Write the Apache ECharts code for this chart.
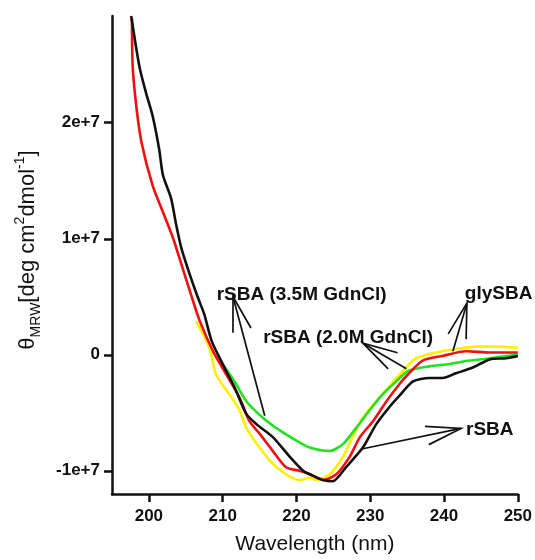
<!DOCTYPE html>
<html>
<head>
<meta charset="utf-8">
<script src="https://cdn.jsdelivr.net/npm/echarts@6/dist/echarts.min.js"></script>
<style>html,body{margin:0;padding:0;background:#fff}#c{width:535px;height:560px}</style>
</head>
<body>
<div id="c"></div>
<script>
// ---- data (wavelength nm, theta MRW) ----
const xTicks = [200, 210, 220, 230, 240, 250];
const yTicks = [-1e7, 0, 1e7, 2e7];

const rSBA = [
  [197.6, 2.92e7], [198.7, 2.49e7], [199.6, 2.26e7], [200.5, 2.06e7], [201.4, 1.77e7],
  [201.9, 1.55e7], [203.0, 1.35e7], [203.7, 1.12e7], [204.4, 0.92e7], [205.5, 0.70e7],
  [206.6, 0.50e7], [207.5, 0.35e7], [208.5, 0.12e7], [210.0, -0.08e7], [211.6, -0.28e7],
  [213.2, -0.51e7], [214.6, -0.60e7], [216.8, -0.71e7], [219.1, -0.88e7], [220.9, -1.00e7],
  [221.8, -1.03e7], [223.6, -1.08e7], [224.9, -1.09e7], [226.7, -0.97e7], [229.0, -0.80e7],
  [230.8, -0.60e7], [232.6, -0.45e7], [234.0, -0.35e7], [235.8, -0.23e7], [238.0, -0.20e7],
  [239.8, -0.20e7], [241.6, -0.16e7], [243.9, -0.11e7], [246.2, -0.04e7], [248.4, -0.03e7],
  [250.0, -0.01e7]
];
const glySBA = [
  [197.7, 2.90e7], [197.8, 2.49e7], [198.3, 2.14e7], [199.0, 1.83e7], [200.5, 1.46e7],
  [201.9, 1.23e7], [203.3, 1.00e7], [204.6, 0.74e7], [205.7, 0.52e7], [206.9, 0.29e7],
  [208.7, 0.03e7], [210.5, -0.17e7], [212.3, -0.37e7], [213.6, -0.57e7], [215.0, -0.68e7],
  [216.8, -0.83e7], [218.6, -0.97e7], [220.4, -1.00e7], [221.8, -1.03e7], [223.6, -1.08e7],
  [225.4, -1.03e7], [227.2, -0.88e7], [228.6, -0.71e7], [230.4, -0.57e7], [232.2, -0.40e7],
  [234.0, -0.25e7], [235.1, -0.17e7], [237.1, -0.05e7], [239.8, -0.01e7], [243.0, 0.03e7],
  [246.2, 0.02e7], [248.4, 0.02e7], [250.0, 0.02e7]
];
const rSBA20 = [
  [206.4, 0.29e7], [208.2, 0.06e7], [209.1, -0.17e7], [210.9, -0.34e7], [212.3, -0.48e7],
  [213.2, -0.63e7], [215.0, -0.80e7], [216.8, -0.94e7], [218.6, -1.03e7], [220.4, -1.08e7],
  [221.8, -1.06e7], [222.7, -1.08e7], [224.5, -1.03e7], [226.3, -0.88e7], [227.6, -0.71e7],
  [229.0, -0.54e7], [230.8, -0.40e7], [232.6, -0.27e7], [234.4, -0.14e7], [236.2, -0.03e7],
  [238.9, 0.02e7], [241.6, 0.05e7], [244.4, 0.07e7], [247.1, 0.07e7], [250.0, 0.06e7]
];
const rSBA35 = [
  [209.6, -0.04e7], [210.0, -0.08e7], [211.8, -0.25e7], [213.2, -0.40e7], [215.4, -0.54e7],
  [217.7, -0.65e7], [220.0, -0.74e7], [221.8, -0.80e7], [224.5, -0.83e7], [226.3, -0.77e7],
  [228.1, -0.63e7], [229.9, -0.48e7], [231.7, -0.34e7], [233.5, -0.23e7], [235.1, -0.14e7],
  [238.0, -0.10e7], [240.7, -0.08e7], [243.5, -0.05e7], [246.2, -0.03e7], [248.4, -0.01e7],
  [250.0, 0.0]
];

// annotation texts and their anchor points (data space)
const noteTexts = ['rSBA (3.5M GdnCl)', 'rSBA (2.0M GdnCl)', 'glySBA', 'rSBA'];
const noteWl = [220.7, 227.0, 247.4, 246.2];
const noteVal = [0.514e7, 0.146e7, 0.53e7, -0.65e7];
// arrows: [tail wl, tail val, head wl, head val]
const arrows = [
  [215.7, -0.525e7, 211.4, 0.50e7],
  [234.9, -0.12e7, 229.0, 0.10e7],
  [241.2, 0.03e7, 243.1, 0.445e7],
  [229.0, -0.81e7, 242.3, -0.635e7]
];

const FONT = '"Liberation Sans", Arial, Helvetica, sans-serif';
const chart = echarts.init(document.getElementById('c'), null, {renderer: 'canvas'});

function lineSeries(name, data, color) {
  return {
    name, type: 'line', data, showSymbol: false, smooth: 0.25,
    lineStyle: {color, width: 2.6}, itemStyle: {color}, clip: false, z: 2
  };
}

chart.setOption({
  animation: false,
  backgroundColor: '#fff',
  grid: {left: 112, right: 17, top: 16, bottom: 63},
  xAxis: {
    type: 'value', min: 195, max: 250,
    name: 'Wavelength (nm)', nameLocation: 'middle', nameGap: 40,
    nameTextStyle: {fontFamily: FONT, fontSize: 21, color: '#111'},
    axisLine: {show: true, onZero: false, lineStyle: {color: '#111', width: 2.5}},
    axisTick: {show: true, customValues: xTicks, length: 8, lineStyle: {color: '#111', width: 2.5}},
    axisLabel: {customValues: xTicks, margin: 14, fontFamily: FONT, fontSize: 17, fontWeight: 'bold', color: '#111'},
    splitLine: {show: false}
  },
  yAxis: {
    type: 'value', min: -1.2e7, max: 2.92e7,
    axisLine: {show: true, onZero: false, lineStyle: {color: '#111', width: 2.5}},
    axisTick: {show: true, customValues: yTicks, length: 8, lineStyle: {color: '#111', width: 2.5}},
    axisLabel: {
      customValues: yTicks, margin: 12, fontFamily: FONT, fontSize: 17, fontWeight: 'bold', color: '#111',
      formatter: v => v === 0 ? '0' : (v / 1e7) + 'e+7'
    },
    splitLine: {show: false}
  },
  graphic: [{
    type: 'text', x: 28, y: 250, rotation: Math.PI / 2,
    style: {
      text: '{t|θ}{s|MRW}{t|[deg cm}{p|2}{t|dmol}{p|-1}{t|]}',
      align: 'center', verticalAlign: 'middle', fill: '#111',
      rich: {
        t: {fontFamily: FONT, fontSize: 22, lineHeight: 30, fill: '#111'},
        s: {fontFamily: FONT, fontSize: 14, lineHeight: 16, verticalAlign: 'bottom', fill: '#111'},
        p: {fontFamily: FONT, fontSize: 14, lineHeight: 16, verticalAlign: 'top', fill: '#111'}
      }
    }
  }],
  series: [
    lineSeries('rSBA (2.0M GdnCl)', rSBA20, '#fff000'),
    lineSeries('rSBA (3.5M GdnCl)', rSBA35, '#22e022'),
    lineSeries('glySBA', glySBA, '#f01010'),
    lineSeries('rSBA', rSBA, '#111111'),
    {
      type: 'custom', clip: false, z: 5, silent: true,
      data: arrows,
      encode: {x: [0, 2], y: [1, 3]},
      renderItem(params, api) {
        const p1 = api.coord([api.value(0), api.value(1)]);
        const p2 = api.coord([api.value(2), api.value(3)]);
        const ang = Math.atan2(p1[1] - p2[1], p1[0] - p2[0]);
        const L = 36, a = 15 * Math.PI / 180;
        const s1 = [p2[0] + L * Math.cos(ang + a), p2[1] + L * Math.sin(ang + a)];
        const s2 = [p2[0] + L * Math.cos(ang - a), p2[1] + L * Math.sin(ang - a)];
        return {
          type: 'group', children: [
            {type: 'line', shape: {x1: p1[0], y1: p1[1], x2: p2[0], y2: p2[1]}, style: {stroke: '#111', lineWidth: 1.7}},
            {type: 'polyline', shape: {points: [s1, p2, s2]}, style: {stroke: '#111', lineWidth: 1.7, fill: null}}
          ]
        };
      }
    },
    {
      type: 'custom', clip: false, z: 6, silent: true,
      data: noteWl.map((w, i) => [w, noteVal[i], i]),
      encode: {x: 0, y: 1},
      renderItem(params, api) {
        const p = api.coord([api.value(0), api.value(1)]);
        return {
          type: 'text', x: p[0], y: p[1],
          style: {
            text: noteTexts[api.value(2)], fontFamily: FONT, fontSize: 19, fontWeight: 'bold',
            fill: '#111', align: 'center', verticalAlign: 'middle'
          }
        };
      }
    }
  ]
});
</script>
</body>
</html>
